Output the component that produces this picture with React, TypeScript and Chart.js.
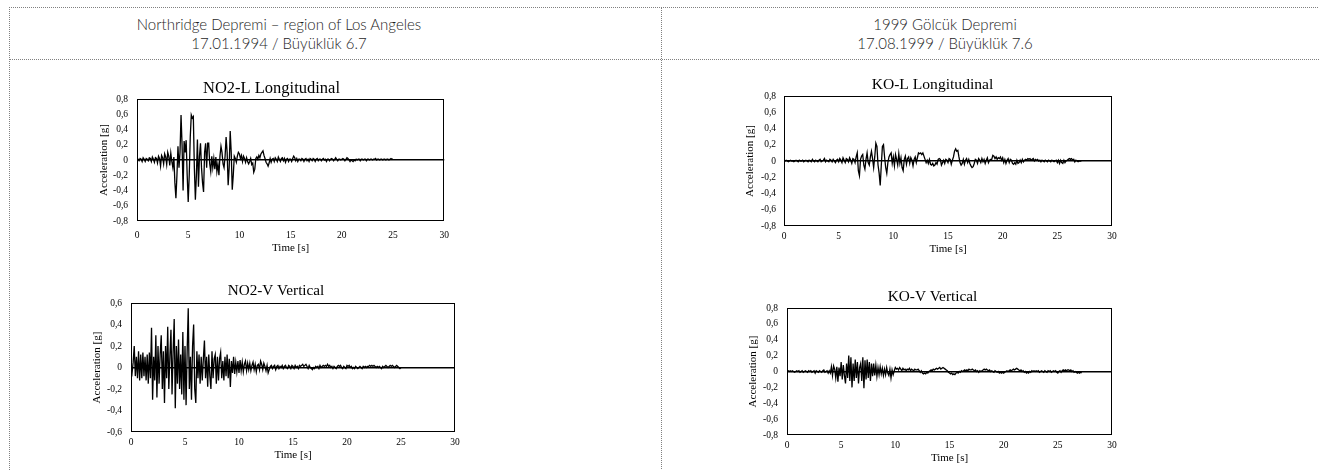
import React, { useEffect, useRef } from "react";
import { Chart, registerables } from "chart.js";

Chart.register(...registerables);

const DT = 0.1;
const X_MIN = 0;
const X_MAX = 30;
const X_STEP = 5;
const Y_STEP = 0.2;

const headerLeft = ["Northridge Depremi – region of Los Angeles", "17.01.1994 / Büyüklük 6.7"];
const headerRight = ["1999 Gölcük Depremi", "17.08.1999 / Büyüklük 7.6"];

const titles = ["NO2-L Longitudinal", "NO2-V Vertical", "KO-L Longitudinal", "KO-V Vertical"];
const xTitle = "Time [s]";
const yTitle = "Acceleration [g]";

// NO2-L, samples every 0.1 s from 0 to 25.0 s
const no2L = [
  0, 0.01, -0.01, 0.02, 0.01, -0.02, 0.03, 0.01, -0.02, 0.02,
  0.01, -0.01, 0.03, 0.02, -0.02, 0.04, 0.01, -0.03, 0.03, 0.02,
  -0.04, 0.05, 0.02, -0.08, 0.06, 0.03, -0.05, 0.08, 0.04, -0.06,
  0.1, 0.05, -0.07, 0.09, -0.02, -0.1, 0.04, -0.3, -0.5, -0.2,
  0.18, -0.1, 0.1, 0.59, 0.2, -0.4, 0.25, 0.1, 0.26, -0.2,
  -0.55, -0.2, 0.3, 0.59, 0.55, 0.57, -0.1, -0.52, -0.2, 0.27,
  -0.35, 0.05, 0.22, -0.1, -0.3, -0.42, 0.1, 0.22, -0.1, 0.22,
  0.22, -0.05, -0.15, 0.05, -0.1, 0.02, -0.12, 0.04, -0.15, -0.05,
  -0.2, 0.05, 0.18, 0.1, -0.05, -0.1, 0.05, 0.3, 0.1, -0.33,
  -0.1, 0.38, 0.1, -0.39, -0.2, 0.05, 0.02, -0.03, 0.05, 0.1,
  0.08, 0.02, 0.06, -0.02, 0.05, 0.02, -0.03, 0.03, -0.02, -0.05,
  -0.02, 0.02, -0.06, -0.04, -0.16, -0.12, 0.02, 0.04, 0.01, 0.06,
  0.03, 0.08, 0.1, 0.12, 0.06, 0.02, -0.03, -0.05, -0.08, -0.04,
  0.02, -0.03, 0.01, 0.02, -0.02, 0.03, 0.01, -0.02, 0.04, 0.01,
  -0.02, 0.02, 0.03, -0.01, 0.02, -0.03, 0.01, 0.02, -0.02, 0.01,
  0.01, -0.02, 0.02, 0.05, 0.03, -0.01, 0.02, -0.02, 0.01, 0.01,
  -0.01, 0.02, 0.01, -0.02, 0.01, 0.02, -0.01, 0.01, -0.02, 0.02,
  0.01, -0.01, 0.02, 0.01, -0.02, 0.01, 0.02, -0.01, 0.01, 0.01,
  -0.01, 0.01, 0.02, 0, 0.01, -0.02, 0.01, 0.01, -0.01, 0.01,
  0.02, 0.01, -0.01, 0.01, 0.03, 0.01, -0.01, 0.01, 0.01, 0,
  0.01, 0.02, 0.01, -0.01, 0.01, 0.03, 0.02, 0, -0.02, 0,
  -0.01, -0.02, 0, -0.01, 0.01, 0, 0.01, 0.01, -0.01, 0.01,
  0.01, 0, 0.01, 0.01, -0.01, 0.01, 0.01, 0, 0.01, 0.01,
  0, 0.01, 0.01, 0.02, 0, 0.01, 0.01, 0, 0.01, 0.01,
  0, 0.01, 0.01, 0, 0.01, 0.01, 0, 0.01, 0.02, 0.01,
  0.01,
];

// NO2-V, samples every 0.1 s from 0 to 25.0 s
const no2V = [
  0, -0.05, 0.05, 0.2, -0.08, 0.1, -0.1, 0.15, -0.12, 0.12,
  -0.1, 0.14, -0.08, 0.1, -0.12, 0.12, -0.15, 0.14, -0.1, 0.37,
  -0.3, 0.1, -0.12, 0.3, -0.28, 0.2, -0.15, 0.12, 0.3, -0.2,
  0.15, -0.33, 0.2, -0.1, 0.38, -0.2, 0.1, 0.35, -0.25, 0.15,
  0.45, -0.38, 0.2, -0.15, 0.26, -0.2, 0.12, -0.25, 0.33, -0.3,
  0.2, -0.35, 0.15, 0.55, -0.2, 0.1, -0.3, 0.2, 0.4, -0.2,
  -0.33, 0.15, -0.1, 0.12, -0.15, 0.1, -0.12, 0.08, 0.25, -0.1,
  0.1, -0.18, 0.12, -0.08, -0.2, 0.15, -0.1, 0.08, 0.12, -0.15,
  0.1, -0.12, 0.08, 0.14, -0.1, 0.06, -0.12, 0.1, -0.08, 0.12,
  -0.1, 0.08, -0.18, 0.06, -0.05, 0.1, -0.06, 0.05, -0.04, 0.06,
  -0.05, 0.07, -0.03, 0.05, -0.04, 0.03, 0.06, -0.03, 0.04, -0.02,
  0.04, -0.03, 0.02, 0.05, -0.02, 0.03, -0.04, 0.02, 0.03, -0.02,
  0.06, 0.03, -0.02, 0.04, 0.01, -0.03, 0.02, -0.05, -0.02, 0.01,
  0.02, -0.01, 0.01, 0.02, -0.02, 0.01, 0.02, -0.01, 0.01, 0,
  0.02, -0.01, 0.01, 0.02, 0, -0.01, 0.02, 0.01, -0.01, 0.02,
  0.01, -0.01, 0.02, 0, 0.01, -0.01, 0.02, 0.01, 0.02, 0.03,
  0.01, 0.02, 0.03, 0.01, -0.01, 0.02, 0, -0.01, -0.02, 0,
  -0.01, 0.01, 0, 0.01, -0.01, 0.02, 0, 0.01, 0.02, 0.01,
  0.02, 0.01, 0.03, 0.01, 0.02, 0, 0.01, -0.01, 0.01, 0,
  -0.01, 0.01, 0.02, 0.01, 0.02, 0, -0.01, 0.01, 0, -0.01,
  0.02, 0.01, 0.02, 0, 0.01, -0.01, 0, -0.01, 0.01, 0,
  -0.01, 0, 0.01, 0, -0.01, 0.01, 0, 0.01, 0, 0.01,
  0.01, 0.02, 0.01, 0.02, 0.01, 0.02, 0.01, 0, 0.01, 0,
  0.01, 0, -0.01, 0.01, 0, 0.01, 0.02, 0.01, 0, 0.01,
  0.02, 0.01, 0.02, 0.01, 0, 0.01, 0.02, 0.01, 0, -0.01,
  0,
];

// KO-L, samples every 0.1 s from 0 to 27.2 s
const koL = [
  0, 0, 0.01, 0, -0.01, 0, 0.01, 0, 0, -0.01,
  0, 0.01, 0, -0.01, 0.01, 0, 0, 0.01, -0.01, 0,
  0.01, 0, -0.01, 0.01, 0, -0.01, 0.02, 0, -0.01, 0.01,
  0, -0.01, 0.01, 0.02, -0.01, 0, 0.01, 0.03, -0.01, 0.01,
  0, -0.01, 0.02, 0.01, -0.01, 0.02, 0, -0.02, 0.01, 0.02,
  -0.01, 0.03, 0.01, -0.02, 0.04, 0.01, -0.02, 0.03, 0.02, -0.01,
  0.04, 0.01, -0.03, 0.03, 0.02, -0.02, 0.05, 0.1, -0.12, -0.18,
  0.02, 0.06, 0.08, -0.05, -0.1, 0.02, 0.1, -0.02, -0.05, 0.05,
  0.12, 0.03, -0.08, 0.05, 0.22, 0.18, -0.05, -0.15, -0.3, -0.05,
  0.18, 0.2, 0.05, -0.08, -0.15, -0.02, 0.05, 0.08, 0.1, -0.03,
  0.05, -0.06, 0.08, 0.02, -0.05, 0.09, -0.03, 0.04, -0.08, -0.12,
  0.02, 0.06, -0.04, 0.03, 0.05, -0.03, 0.04, 0.01, -0.06, 0.02,
  0.05, -0.02, 0.04, 0.1, 0.09, 0.1, 0.08, 0.1, 0.06, 0.02,
  -0.02, 0.01, -0.03, 0.02, -0.04, -0.05, -0.03, -0.06, -0.05, -0.02,
  -0.04, 0.02, 0.03, 0.02, -0.05, -0.02, 0.01, -0.03, 0.02, 0.01,
  -0.02, 0.03, 0.02, -0.04, 0.01, 0.05, 0.12, 0.15, 0.12, 0.13,
  0.05, -0.02, -0.05, -0.03, 0.02, -0.04, 0.01, 0.03, -0.02, 0.02,
  -0.03, -0.06, -0.08, -0.07, -0.03, 0.02, 0.01, -0.03, 0.03, 0.01,
  -0.02, 0.03, -0.01, 0.02, -0.03, 0.01, 0.04, -0.02, 0.01, 0.02,
  0.02, 0.07, 0.06, 0.03, 0.05, 0.02, 0.04, 0.03, 0.05, 0.01,
  0.04, -0.02, 0.02, -0.03, 0.01, 0.03, -0.02, 0.02, 0.01, -0.03,
  -0.04, -0.02, -0.04, 0.01, -0.03, -0.02, 0.01, -0.02, 0.02, -0.01,
  0.01, 0.02, 0.01, 0.03, 0.02, 0.03, 0.01, 0.02, 0.03, 0,
  0.02, 0.01, 0.02, 0, 0.01, -0.01, 0.01, 0, -0.01, 0.01,
  0, -0.01, 0.01, 0, -0.01, 0.01, 0, -0.01, 0, 0.01,
  -0.02, 0.01, -0.03, 0.01, -0.02, -0.03, 0.01, -0.02, 0, 0.01,
  0.02, 0.03, 0.02, 0.03, 0.01, 0.02, -0.01, 0.01, 0, -0.01,
  0, 0, 0,
];

// KO-V, samples every 0.1 s from 0 to 27.2 s
const koV = [
  0.01, 0.01, 0, 0.01, 0, 0.01, 0, -0.01, 0, 0.01,
  0, 0.01, -0.01, 0, 0.01, -0.01, 0, 0.01, 0, -0.01,
  0.01, 0, 0.01, -0.01, 0, 0.01, -0.02, 0.01, 0, -0.01,
  0.01, 0, -0.01, 0.01, 0.02, -0.01, 0, 0.01, -0.02, 0.01,
  -0.02, 0.06, -0.05, 0.07, 0.03, -0.08, 0.06, -0.13, 0.05, -0.06,
  0.12, -0.1, 0.08, -0.05, -0.15, 0.1, -0.08, 0.2, -0.12, 0.18,
  -0.2, 0.1, -0.12, 0.15, -0.08, 0.12, -0.15, 0.05, 0.1, -0.12,
  0.18, -0.21, 0.14, -0.1, 0.15, -0.08, 0.12, -0.12, 0.1, -0.06,
  0.1, -0.05, 0.08, -0.06, 0.05, -0.04, 0.06, -0.03, 0.04, -0.05,
  0.03, -0.04, 0.05, -0.02, -0.05, 0.03, -0.08, 0.02, -0.04, 0.01,
  0.05, 0.03, 0.04, 0.02, 0.05, 0.03, 0.01, 0.04, 0.02, 0.03,
  0.01, 0.03, 0.02, 0.04, 0.01, 0.03, 0.02, 0.01, 0.03, 0.02,
  0.02, 0.03, 0.01, -0.01, 0.01, -0.02, -0.03, -0.02, -0.03, -0.01,
  -0.02, 0, 0.01, 0.02, 0.01, 0.03, 0.02, 0.03, 0.04, 0.03,
  0.04, 0.05, 0.03, 0.04, 0.05, 0.04, 0.03, 0.02, 0.01, -0.01,
  -0.02, -0.03, -0.02, -0.04, -0.03, -0.04, -0.02, -0.01, -0.02, 0,
  -0.01, 0.01, 0, 0.01, 0.02, 0.01, 0.02, 0.01, 0.03, 0.02,
  0.02, 0.03, 0.02, 0.01, 0.02, 0, 0.01, -0.01, 0.01, 0,
  0.01, 0.02, 0.03, 0.02, 0.03, 0.02, 0.01, 0.02, 0, 0.01,
  0, -0.01, 0.01, 0, -0.01, 0, -0.02, -0.01, -0.02, -0.01,
  -0.02, -0.01, 0, 0.01, 0, 0.01, 0.02, 0.01, 0.02, 0.03,
  0.02, 0.03, 0.04, 0.03, 0.02, 0.01, 0.02, 0, 0.01, -0.01,
  0, -0.02, -0.01, -0.02, 0, -0.01, 0.01, 0, 0.01, 0,
  0.01, 0, 0.01, -0.01, 0, 0.01, 0, -0.01, 0.01, 0,
  -0.01, 0.01, 0, 0.01, -0.01, 0, 0.01, 0, 0.01, -0.01,
  -0.02, 0, 0.01, -0.01, 0.01, 0.02, 0.01, 0.02, 0.01, 0.02,
  0.02, 0.01, 0.02, 0, 0.01, -0.01, 0, -0.01, -0.02, -0.01,
  -0.02, -0.01, -0.02,
];

const SERIF = "'Liberation Serif', 'Times New Roman', serif";
const SANS = "Lato, 'Open Sans', sans-serif";

type Layout = {
  left: number; top: number; width: number; height: number;
  yW: number; y2W: number; xH: number;
  tSize: number; tPadTop: number; tPadBottom: number;
  yTitlePad: number; yTickPad: number; xTickPad: number; xTitlePad: number;
  yMin: number; yMax: number;
};

const layouts: Layout[] = [
  { left: 85, top: 75, width: 373, height: 182, yW: 52, y2W: 12, xH: 36, tSize: 16.5, tPadTop: 3.6, tPadBottom: 0.6, yTitlePad: 13, yTickPad: 9, xTickPad: 9, xTitlePad: 2.4, yMin: -0.8, yMax: 0.8 },
  { left: 85, top: 270, width: 382, height: 194, yW: 46, y2W: 12, xH: 32, tSize: 15.2, tPadTop: 11.9, tPadBottom: 2.86, yTitlePad: 5.4, yTickPad: 9, xTickPad: 5, xTitlePad: 2.4, yMin: -0.6, yMax: 0.6 },
  { left: 738, top: 70, width: 389, height: 188, yW: 46, y2W: 15, xH: 32, tSize: 15.6, tPadTop: 5.64, tPadBottom: 1.64, yTitlePad: 5.4, yTickPad: 8, xTickPad: 4.7, xTitlePad: 2.4, yMin: -0.8, yMax: 0.8 },
  { left: 740, top: 280, width: 385, height: 186, yW: 47, y2W: 13, xH: 31, tSize: 15.3, tPadTop: 7.5, tPadBottom: 2.14, yTitlePad: 6.4, yTickPad: 9, xTickPad: 4.7, xTitlePad: 1.7, yMin: -0.8, yMax: 0.8 },
];

const series = [no2L, no2V, koL, koV];

const framePlugin = {
  id: "frame",
  afterDraw(chart: any) {
    const { ctx, chartArea: a } = chart;
    ctx.save();
    ctx.strokeStyle = "#000";
    ctx.lineWidth = 1;
    const l = Math.round(a.left) + 0.5;
    const t = Math.round(a.top) + 0.5;
    const r = Math.round(a.right) - 0.5;
    const b = Math.round(a.bottom) - 0.5;
    ctx.strokeRect(l, t, r - l, b - t);
    ctx.restore();
  },
};

const fmt = (v: number) => (Math.abs(v) < 1e-9 ? "0" : v.toFixed(1).replace(".", ","));

function Seismo({ idx }: { idx: number }) {
  const ref = useRef<HTMLCanvasElement>(null);
  const L = layouts[idx];
  useEffect(() => {
    const values = series[idx];
    const chart = new Chart(ref.current as HTMLCanvasElement, {
      type: "line",
      data: {
        datasets: [
          {
            data: values.map((v, i) => ({ x: i * DT, y: v })),
            borderColor: "#000",
            borderWidth: 1.3,
            pointRadius: 0,
            tension: 0,
            fill: false,
          },
        ],
      },
      options: {
        responsive: false,
        animation: false,
        devicePixelRatio: 1,
        layout: { padding: 0 },
        plugins: {
          legend: { display: false },
          tooltip: { enabled: false },
          title: {
            display: true,
            text: titles[idx],
            color: "#000",
            font: { family: SERIF, size: L.tSize, weight: "normal", lineHeight: 1.2 },
            padding: { top: L.tPadTop, bottom: L.tPadBottom },
          },
        },
        scales: {
          x: {
            type: "linear",
            min: X_MIN,
            max: X_MAX,
            ticks: { stepSize: X_STEP, autoSkip: false, maxRotation: 0, padding: L.xTickPad, color: "#000", font: { family: SERIF, size: 9.5, lineHeight: 1.2 } },
            grid: { display: false, drawTicks: false },
            border: { display: false },
            title: { display: true, text: xTitle, color: "#000", font: { family: SERIF, size: 11, lineHeight: 1.2 }, padding: { top: 0, bottom: L.xTitlePad } },
            afterFit: (s: any) => { s.height = L.xH; },
          },
          y: {
            type: "linear",
            min: L.yMin,
            max: L.yMax,
            ticks: { stepSize: Y_STEP, autoSkip: false, padding: L.yTickPad, color: "#000", font: { family: SERIF, size: 9.5, lineHeight: 1.2 }, callback: (v: any) => fmt(Number(v)) },
            grid: {
              drawTicks: false,
              color: (c: any) => (c.tick && Math.abs(c.tick.value) < 1e-9 ? "#000" : "rgba(0,0,0,0)"),
              lineWidth: 1.5,
            },
            border: { display: false },
            title: { display: true, text: yTitle, color: "#000", font: { family: SERIF, size: 11, lineHeight: 1.2 }, padding: { top: L.yTitlePad, bottom: 0 } },
            afterFit: (s: any) => { s.width = L.yW; },
          },
          y2: {
            type: "linear",
            position: "right",
            min: 0,
            max: 1,
            display: true,
            ticks: { display: false },
            grid: { display: false, drawTicks: false },
            border: { display: false },
            afterFit: (s: any) => { s.width = L.y2W; },
          },
        },
      } as any,
      plugins: [framePlugin],
    });
    return () => chart.destroy();
  }, [idx]);
  return (
    <canvas
      ref={ref}
      width={L.width}
      height={L.height}
      style={{ position: "absolute", left: L.left, top: L.top, width: L.width, height: L.height, display: "block" }}
    />
  );
}

const border = "1px dotted #808080";

export default function App() {
  const headStyle: React.CSSProperties = {
    position: "absolute",
    top: 8,
    height: 51,
    width: 420,
    display: "flex",
    alignItems: "center",
    justifyContent: "center",
    textAlign: "center",
    fontFamily: SANS,
    fontSize: 15,
    fontWeight: 300,
    lineHeight: "19px",
    color: "#1e1e1e",
    whiteSpace: "nowrap",
  };
  return (
    <div>
      <div style={{ position: "absolute", left: 9, top: 7, width: 1330, height: 480, borderTop: border, borderLeft: border }} />
      <div style={{ position: "absolute", left: 9, top: 59, width: 1330, height: 0, borderTop: border }} />
      <div style={{ position: "absolute", left: 661, top: 7, width: 0, height: 480, borderLeft: border }} />
      <div style={{ ...headStyle, left: 279 - 210 }}>
        <div>{headerLeft[0]}<br />{headerLeft[1]}</div>
      </div>
      <div style={{ ...headStyle, left: 945 - 210 }}>
        <div>{headerRight[0]}<br />{headerRight[1]}</div>
      </div>
      {[0, 1, 2, 3].map((i) => (
        <Seismo key={i} idx={i} />
      ))}
    </div>
  );
}
